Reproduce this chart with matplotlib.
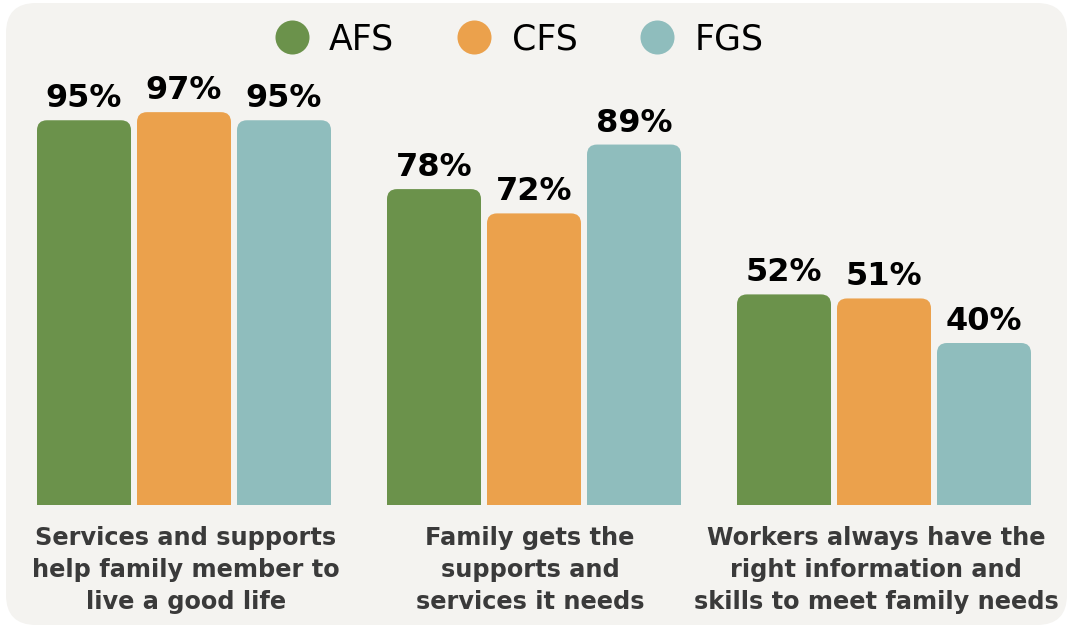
import numpy as np
import matplotlib
matplotlib.use('Agg')
import matplotlib.pyplot as plt
from matplotlib.patches import FancyBboxPatch, Rectangle
from matplotlib.lines import Line2D

# data
categories = ['Services and supports\nhelp family member to\nlive a good life',
              'Family gets the\nsupports and\nservices it needs',
              'Workers always have the\nright information and\nskills to meet family needs']
series = ['AFS', 'CFS', 'FGS']
afs = [95, 78, 52]
cfs = [97, 72, 51]
fgs = [95, 89, 40]
colors = ['#6b924b', '#eba14c', '#8fbdbd']

W, H = 1068, 625
fig = plt.figure(figsize=(W/100, H/100), dpi=100, facecolor='white')

# rounded background panel
r = 30
panel = FancyBboxPatch((6/W, 0), (1067 - 6)/W, (H - 3)/H,
                       boxstyle='round,pad=0,rounding_size=%f' % (r/W),
                       mutation_aspect=W/H, transform=fig.transFigure,
                       facecolor='#f4f3f0', edgecolor='none', zorder=-5)
fig.patches.append(panel)

ax = fig.add_axes([0, 0, 1, 1])
ax.set_facecolor('none')
ax.axis('off')
ax.set_zorder(2)

pxy = 4.05   # pixels per percent
gx = 350.    # pixels per group
x0 = 184.    # pixel centre of first group
ax.set_xlim(-x0/gx, (W - x0)/gx)
ax.set_ylim(-(H - 505)/pxy, 505/pxy)

x = np.arange(len(categories))
pitch = 100/gx
width = 94/gx
rad = 10
rx = rad/gx
ry = rad/pxy

for i, (vals, c) in enumerate(zip([afs, cfs, fgs], colors)):
    bars = ax.bar(x + (i - 1)*pitch, vals, width, color=c)
    for b, v in zip(bars, vals):
        b.set_visible(False)
        bx, bw, bh = b.get_x(), b.get_width(), b.get_height()
        ax.add_patch(FancyBboxPatch((bx, 0), bw, bh,
                                    boxstyle='round,pad=0,rounding_size=%f' % rx,
                                    mutation_aspect=ry/rx, facecolor=c,
                                    edgecolor='none', zorder=2))
        ax.add_patch(Rectangle((bx, 0), bw, bh/2, facecolor=c,
                               edgecolor='none', zorder=2))
        ax.text(bx + bw/2, bh + 13/pxy, '%d%%' % v, ha='center', va='baseline',
                fontsize=23, fontweight='heavy', color='black', family='DejaVu Sans')

# labels sit a touch left of the group centres in the original
shift = [2, -4, -8]
for xi, lab, s in zip(x, categories, shift):
    ax.text(xi + s/gx, -21/pxy, lab, ha='center', va='top', fontsize=17.3,
            fontweight='bold', color='#3a3a3a', linespacing=1.43, family='DejaVu Sans')

handles = [Line2D([], [], marker='o', linestyle='none', markersize=24.5,
                  markerfacecolor=c, markeredgecolor='none') for c in colors]
leg = ax.legend(handles, series, loc='center', ncol=3, frameon=False,
                bbox_to_anchor=(519/W, 1 - 39/H), bbox_transform=fig.transFigure,
                prop={'family': 'DejaVu Sans', 'size': 25},
                handlelength=1.0, handletextpad=0.58, columnspacing=1.8,
                borderpad=0, borderaxespad=0)
for t in leg.get_texts():
    t.set_color('black')

fig.savefig('out.png', dpi=100, facecolor='white')
